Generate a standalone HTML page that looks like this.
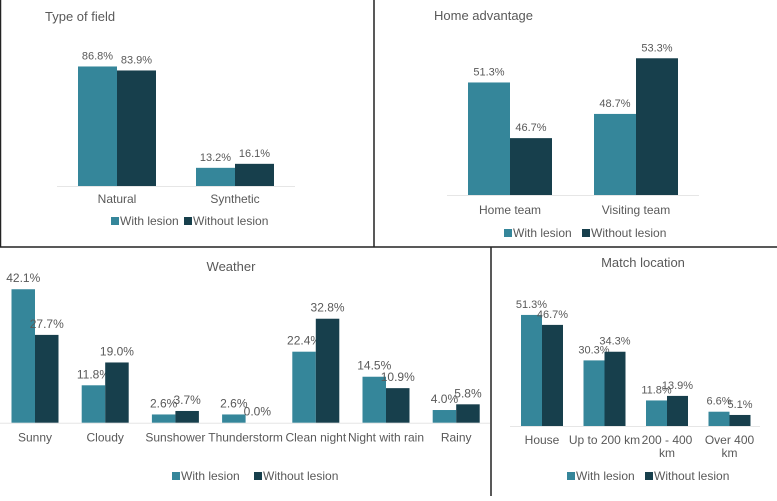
<!DOCTYPE html>
<html><head><meta charset="utf-8"><style>
body{margin:0;width:777px;height:496px;background:#fff;overflow:hidden;font-family:"Liberation Sans",sans-serif}
svg text{font-family:"Liberation Sans",sans-serif;fill:#595959}
</style></head><body>
<svg id="s" width="777" height="496">
<line x1="0.5" y1="0" x2="0.5" y2="247" stroke="#222" stroke-width="1.5"/>
<line x1="374" y1="0" x2="374" y2="247" stroke="#222" stroke-width="1.5"/>
<line x1="0" y1="247" x2="777" y2="247" stroke="#222" stroke-width="1.5"/>
<line x1="491" y1="247" x2="491" y2="496" stroke="#222" stroke-width="1.5"/>
</svg>
<script>
const fieldCats=["Natural","Synthetic"];
const fieldWith=[86.8,13.2];
const fieldWithout=[83.9,16.1];
const homeCats=["Home team","Visiting team"];
const homeWith=[51.3,48.7];
const homeWithout=[46.7,53.3];
const weatherCats=["Sunny","Cloudy","Sunshower","Thunderstorm","Clean night","Night with rain","Rainy"];
const weatherWith=[42.1,11.8,2.6,2.6,22.4,14.5,4.0];
const weatherWithout=[27.7,19.0,3.7,0.0,32.8,10.9,5.8];
const locCats=[["House"],["Up to 200 km"],["200 - 400","km"],["Over 400","km"]];
const locWith=[51.3,30.3,11.8,6.6];
const locWithout=[46.7,34.3,13.9,5.1];
const C1="#35869a",C2="#173f4c";
const svg=document.getElementById('s');
const NS="http://www.w3.org/2000/svg";
function mk(tag,attrs,txt){const e=document.createElementNS(NS,tag);for(const k in attrs)e.setAttribute(k,attrs[k]);if(txt!=null)e.textContent=txt;svg.appendChild(e);return e;}
function chart(o){
  const y=v=>o.base-(v-o.min)*o.ppu;
  const t=mk('text',{x:o.tx,y:o.ty,'font-size':13,'text-anchor':o.ta||'start',fill:'#404040'},o.title);
  
  
  const ax=mk('line',{x1:o.ax1,x2:o.ax2,y1:o.base+0.5,y2:o.base+0.5,stroke:'#e6e6e6'});
  
  
  o.cats.forEach((c,i)=>{
    const cx=o.x0+i*o.pitch;
    [[o.w,C1,'with'],[o.wo,C2,'without']].forEach(([arr,col,nm],j)=>{
      const v=arr[i];const bx=j?cx:cx-o.bw;const top=y(v);
      const r=mk('rect',{x:bx,y:top,width:o.bw,height:o.base-top,fill:col});
      
      
      const l=mk('text',{x:bx+o.bw/2,y:top-7,'font-size':o.vfs||11,'text-anchor':'middle'},v.toFixed(1)+'%');
      
      
    });
    const lines=Array.isArray(c)?c:[c];
    lines.forEach((s,k)=>{
      const tl=mk('text',{x:cx,y:o.base+o.ly+k*13,'font-size':12,'text-anchor':'middle'},s);
      
      
    });
  });
  [[o.lx1,C1,'With lesion'],[o.lx2,C2,'Without lesion']].forEach(([lx,col,s],k)=>{
    const sq=mk('rect',{x:lx,y:o.legY-8,width:8,height:8,fill:col});
    
    
    const lt=mk('text',{x:lx+9,y:o.legY,'font-size':12},s);
    
    
  });
}
chart({key:'field',title:'Type of field',tx:45,ty:21,cats:fieldCats,w:fieldWith,wo:fieldWithout,min:0,ppu:1.377,base:186,x0:117,pitch:118,bw:39,ax1:57,ax2:295,ly:17,legY:225,lx1:111,lx2:184});
chart({key:'home',title:'Home advantage',tx:434,ty:20,cats:homeCats,w:homeWith,wo:homeWithout,min:42,ppu:12.1,base:195,x0:510,pitch:126,bw:42,ax1:447,ax2:699,ly:19,legY:237,lx1:504,lx2:582});
chart({key:'weather',title:'Weather',tx:231,ty:271,ta:'middle',cats:weatherCats,w:weatherWith,wo:weatherWithout,min:0,ppu:3.17,base:422.7,x0:35,pitch:70.2,bw:23.5,ax1:0,ax2:490,ly:19,legY:480,lx1:172,lx2:254,vfs:12});
chart({key:'location',title:'Match location',tx:643,ty:267,ta:'middle',cats:locCats,w:locWith,wo:locWithout,min:0,ppu:2.165,base:426,x0:542,pitch:62.5,bw:21,ax1:510,ax2:760,ly:18,legY:480,lx1:567,lx2:645});
</script>
</body></html>
